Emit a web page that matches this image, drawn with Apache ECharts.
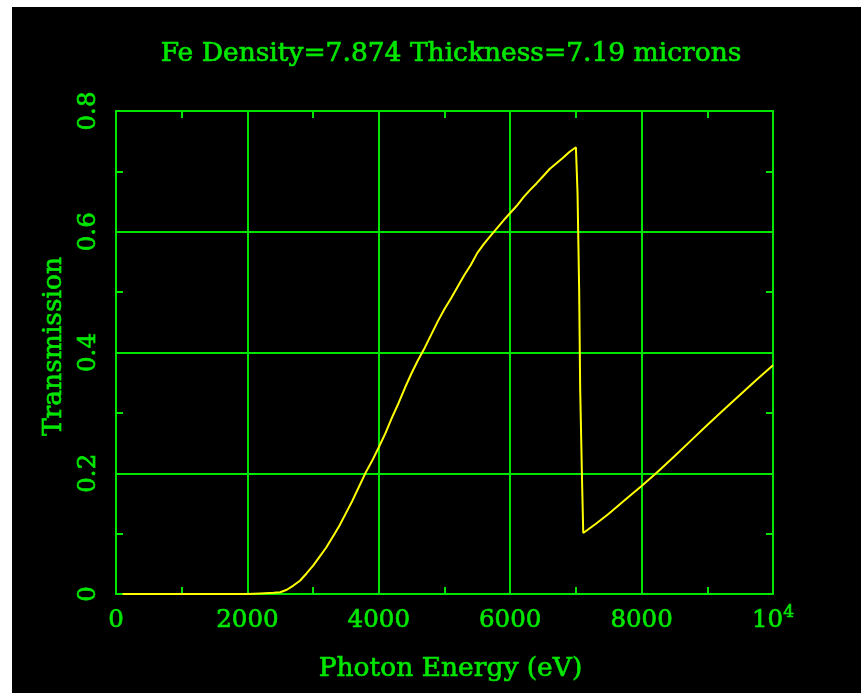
<!DOCTYPE html>
<html>
<head>
<meta charset="utf-8">
<script src="https://cdn.jsdelivr.net/npm/echarts@6/dist/echarts.min.js"></script>
<style>
html,body{margin:0;padding:0;background:#ffffff;width:861px;height:693px;overflow:hidden;}
#chart{position:absolute;left:12px;top:7px;width:849px;height:686px;background:#000000;}
</style>
</head>
<body>
<div id="chart"></div>
<script>
const titleText = 'Fe Density=7.874 Thickness=7.19 microns';
const xName = 'Photon Energy (eV)';
const yName = 'Transmission';
const xTicks = [0, 2000, 4000, 6000, 8000, 10000];
const yTicks = [0, 0.2, 0.4, 0.6, 0.8];

const energy = [100, 500, 1000, 1500, 2000, 2200, 2400, 2500, 2600, 2700, 2800, 2900,
  3000, 3100, 3200, 3300, 3400, 3500, 3600, 3700, 3800, 3900,
  4000, 4100, 4200, 4300, 4400, 4500, 4600, 4700, 4800, 4900,
  5000, 5100, 5200, 5300, 5400, 5500, 5600, 5700, 5800, 5900,
  6000, 6100, 6200, 6300, 6400, 6500, 6600, 6700, 6800, 6900,
  7000, 7012, 7025, 7050, 7065, 7095, 7112,
  7300, 7500, 7750, 8000, 8250, 8500, 8750, 9000, 9250, 9500, 9750, 10000];
const transmission = [0, 0, 0, 0, 0.000, 0.001, 0.002, 0.003, 0.007, 0.014, 0.022, 0.034,
  0.047, 0.062, 0.077, 0.095, 0.113, 0.134, 0.155, 0.178, 0.201, 0.221,
  0.243, 0.266, 0.292, 0.316, 0.342, 0.366, 0.388, 0.408, 0.430, 0.452,
  0.472, 0.490, 0.509, 0.528, 0.545, 0.565, 0.580, 0.593, 0.606, 0.619,
  0.631, 0.643, 0.657, 0.669, 0.680, 0.692, 0.704, 0.713, 0.722, 0.732,
  0.740, 0.742, 0.664, 0.500, 0.340, 0.180, 0.101,
  0.116, 0.133, 0.156, 0.179, 0.203, 0.228, 0.254, 0.280, 0.305, 0.330, 0.355, 0.379];

const GREEN = '#00e600';
const YELLOW = '#ffff00';
const FONT = 'DejaVu Serif';
const TB = 0.7;

const chart = echarts.init(document.getElementById('chart'), null, {renderer: 'canvas'});

const axisLine = {show: true, onZero: false, lineStyle: {color: GREEN, width: 2}};
const minorTick = {show: true, splitNumber: 2, length: 7, lineStyle: {color: GREEN, width: 2}};
const axisTick = {show: true, inside: true, length: 7, lineStyle: {color: GREEN, width: 2}};

function xLabel(v) {
  if (v === 10000) return '{base|10}{sup|4}';
  return '{base|' + v + '}';
}

const option = {
  backgroundColor: '#000000',
  animation: false,
  title: {
    text: titleText,
    left: 434,
    textAlign: 'center',
    top: 29,
    textStyle: {color: GREEN, fontFamily: FONT, fontSize: 26.5, fontWeight: 'normal',
      textBorderColor: GREEN, textBorderWidth: TB}
  },
  grid: {left: 104, top: 104, right: 88, bottom: 99, containLabel: false},
  xAxis: [{
    type: 'value', min: xTicks[0], max: xTicks[xTicks.length - 1], interval: 2000,
    position: 'bottom',
    name: xName, nameLocation: 'middle', nameGap: 62,
    nameTextStyle: {color: GREEN, fontFamily: FONT, fontSize: 26.5, padding: [0, 0, 0, 12],
      textBorderColor: GREEN, textBorderWidth: TB},
    axisLine: axisLine, axisTick: axisTick, minorTick: minorTick,
    splitLine: {show: true, lineStyle: {color: GREEN, width: 2}},
    axisLabel: {
      show: true, margin: 10, formatter: xLabel, color: GREEN,
      rich: {
        base: {color: GREEN, fontFamily: FONT, fontSize: 24.5, lineHeight: 24, padding: [10, 0, 0, 0],
          textBorderColor: GREEN, textBorderWidth: TB},
        sup: {color: GREEN, fontFamily: FONT, fontSize: 17, lineHeight: 16, verticalAlign: 'top',
          textBorderColor: GREEN, textBorderWidth: TB}
      }
    }
  }, {
    type: 'value', min: xTicks[0], max: xTicks[xTicks.length - 1], interval: 2000,
    position: 'top',
    axisLine: axisLine, axisTick: axisTick, minorTick: minorTick,
    splitLine: {show: false}, axisLabel: {show: false}
  }],
  yAxis: [{
    type: 'value', min: yTicks[0], max: yTicks[yTicks.length - 1], interval: 0.2,
    position: 'left',
    name: yName, nameLocation: 'middle', nameGap: 48, nameRotate: 90,
    nameTextStyle: {color: GREEN, fontFamily: FONT, fontSize: 26.5, padding: [0, 0, 0, 12],
      textBorderColor: GREEN, textBorderWidth: TB},
    axisLine: axisLine, axisTick: axisTick, minorTick: minorTick,
    splitLine: {show: true, lineStyle: {color: GREEN, width: 2}},
    axisLabel: {show: true, rotate: 90, margin: 15, color: GREEN, fontFamily: FONT, fontSize: 24.5,
      textBorderColor: GREEN, textBorderWidth: TB}
  }, {
    type: 'value', min: yTicks[0], max: yTicks[yTicks.length - 1], interval: 0.2,
    position: 'right',
    axisLine: axisLine, axisTick: axisTick, minorTick: minorTick,
    splitLine: {show: false}, axisLabel: {show: false}
  }],
  series: [{
    type: 'line',
    xAxisIndex: 0, yAxisIndex: 0,
    data: energy.map((e, i) => [e, transmission[i]]),
    showSymbol: false,
    symbol: 'none',
    smooth: false,
    lineStyle: {color: YELLOW, width: 2},
    z: 10
  }]
};
chart.setOption(option);
</script>
</body>
</html>
